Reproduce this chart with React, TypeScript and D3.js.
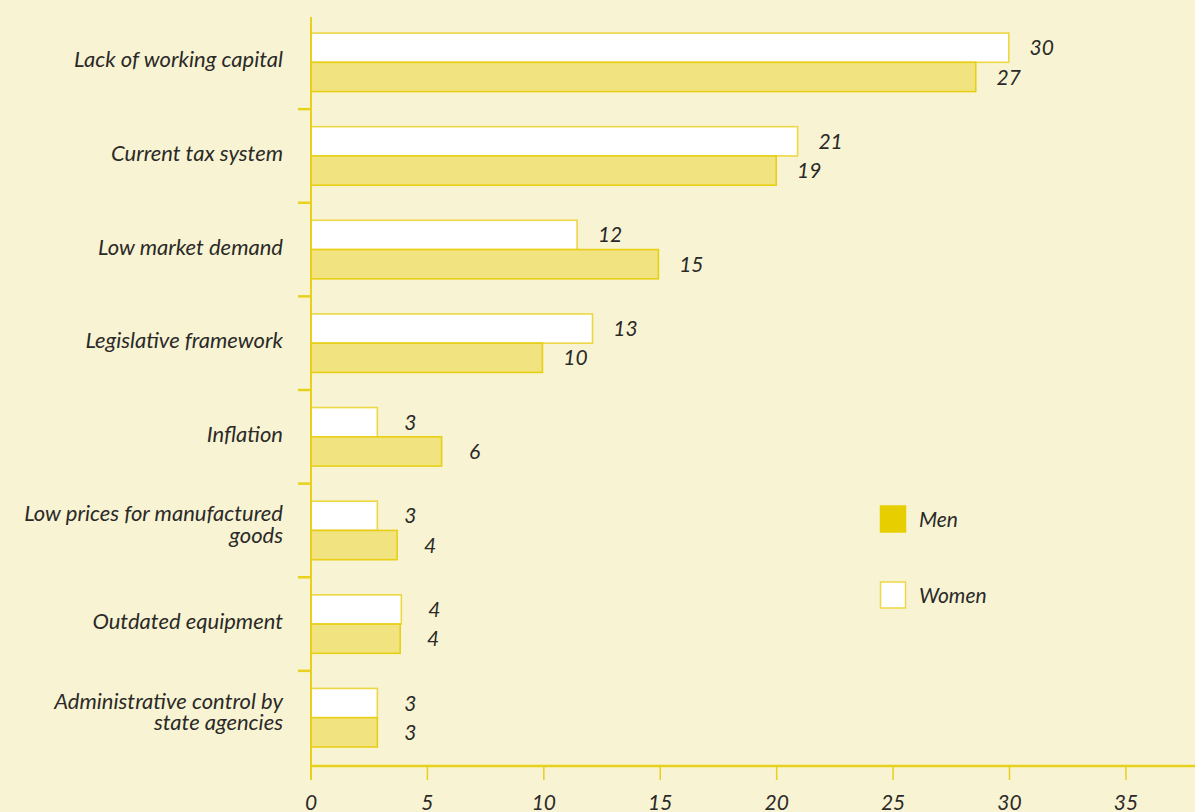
import React from "react";
import * as d3 from "d3";

const categories: string[][] = [
  ["Lack of working capital"],
  ["Current tax system"],
  ["Low market demand"],
  ["Legislative framework"],
  ["Inflation"],
  ["Low prices for manufactured", "goods"],
  ["Outdated equipment"],
  ["Administrative control by", "state agencies"],
];
const womenValues = [29.97, 20.9, 11.43, 12.09, 2.85, 2.85, 3.88, 2.85];
const menValues = [28.55, 19.98, 14.92, 9.94, 5.61, 3.7, 3.83, 2.85];
const womenLabels = ["30", "21", "12", "13", "3", "3", "4", "3"];
const menLabels = ["27", "19", "15", "10", "6", "4", "4", "3"];
const xTicks = [0, 5, 10, 15, 20, 25, 30, 35];
const seriesNames = ["Women", "Men"];
const legendItems = ["Men", "Women"];

const W = 1195;
const H = 812;
const BG = "#f8f4d3";
const AXIS = "#e8d11c";
const MEN_FILL = "#f1e37f";
const MEN_STROKE = "#e8cf16";
const WOMEN_STROKE = "#ecd744";
const TEXT = "#2b2a28";
const FONT = "Lato, 'Open Sans', sans-serif";

export default function App() {
  const x = d3.scaleLinear().domain([0, 30]).range([311, 1009.5]);
  const idx = categories.map((_, i) => String(i));
  const y = d3.scaleBand().domain(idx).range([15.5, 764.5]).padding(0);
  const inner = d3
    .scaleBand()
    .domain(seriesNames)
    .range([0, y.bandwidth()])
    .paddingInner(0)
    .paddingOuter(0.6);
  const axisY = 766;
  const boundaries = idx.slice(1).map((d) => y(d) as number);

  return (
    <div style={{ position: "absolute", left: 0, top: 0 }}>
      <svg width={W} height={H} style={{ display: "block" }}>
        <rect x={0} y={0} width={W} height={H} fill={BG} />
        {idx.map((d, i) => {
          const by = y(d) as number;
          const wy = by + (inner("Women") as number);
          const my = by + (inner("Men") as number);
          const bh = inner.bandwidth();
          const center = by + y.bandwidth() / 2;
          const lines = categories[i];
          return (
            <g key={d}>
              <rect
                x={x(0)}
                y={wy}
                width={x(womenValues[i]) - x(0)}
                height={bh}
                fill="#ffffff"
                stroke={WOMEN_STROKE}
                strokeWidth={1.6}
              />
              <rect
                x={x(0)}
                y={my}
                width={x(menValues[i]) - x(0)}
                height={bh}
                fill={MEN_FILL}
                stroke={MEN_STROKE}
                strokeWidth={1.6}
              />
              <text
                x={x(womenValues[i]) + 33}
                y={wy + bh / 2}
                dy="0.36em"
                textAnchor="middle"
                fontFamily={FONT}
                fontStyle="italic"
                fontSize={21}
                fill={TEXT}
              >
                {womenLabels[i]}
              </text>
              <text
                x={x(menValues[i]) + 33}
                y={my + bh / 2}
                dy="0.36em"
                textAnchor="middle"
                fontFamily={FONT}
                fontStyle="italic"
                fontSize={21}
                fill={TEXT}
              >
                {menLabels[i]}
              </text>
              {lines.map((line, j) => {
                const base =
                  lines.length === 1 ? center + 5 : center - 9 + j * 21.5;
                return (
                  <text
                    key={j}
                    x={283}
                    y={base}
                    textAnchor="end"
                    fontFamily={FONT}
                    fontStyle="italic"
                    fontSize={22}
                    fill={TEXT}
                  >
                    {line}
                  </text>
                );
              })}
            </g>
          );
        })}
        <line x1={x(0)} x2={x(0)} y1={17} y2={780} stroke={AXIS} strokeWidth={2} />
        {boundaries.map((b, i) => (
          <line key={i} x1={298} x2={x(0)} y1={b} y2={b} stroke={AXIS} strokeWidth={2.5} />
        ))}
        <line x1={x(0)} x2={W} y1={axisY} y2={axisY} stroke={AXIS} strokeWidth={2.5} />
        {xTicks.map((t) => (
          <g key={t}>
            <line x1={x(t)} x2={x(t)} y1={axisY} y2={780} stroke={AXIS} strokeWidth={1.5} />
            <text
              x={x(t)}
              y={810}
              textAnchor="middle"
              fontFamily={FONT}
              fontStyle="italic"
              fontSize={21}
              fill={TEXT}
            >
              {t}
            </text>
          </g>
        ))}
        {legendItems.map((name, i) => {
          const ly = 506 + i * 76;
          return (
            <g key={name}>
              <rect
                x={880.5}
                y={ly}
                width={25}
                height={26}
                fill={name === "Men" ? "#e6ce00" : "#ffffff"}
                stroke={name === "Men" ? "#e6ce00" : WOMEN_STROKE}
                strokeWidth={1.5}
              />
              <text
                x={919}
                y={ly + 13}
                dy="0.36em"
                fontFamily={FONT}
                fontStyle="italic"
                fontSize={21}
                fill={TEXT}
              >
                {name}
              </text>
            </g>
          );
        })}
      </svg>
    </div>
  );
}
